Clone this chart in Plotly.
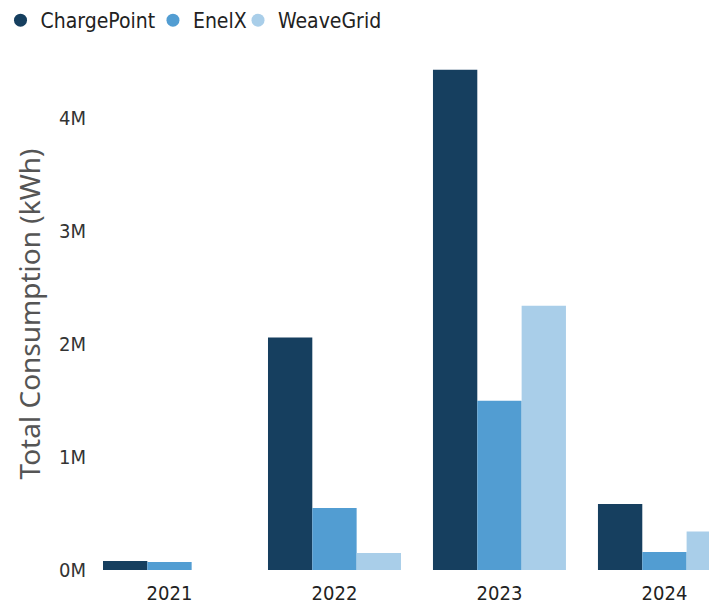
import plotly.graph_objects as go

years = ["2021", "2022", "2023", "2024"]
chargepoint = [80000, 2060000, 4430000, 585000]
enelx = [70000, 550000, 1500000, 160000]
weavegrid = [0, 150000, 2340000, 340000]

series = [("ChargePoint", chargepoint, "#163f5f"),
          ("EnelX", enelx, "#529dd2"),
          ("WeaveGrid", weavegrid, "#a9cee9")]

tick_vals = [0, 1000000, 2000000, 3000000, 4000000]
tick_text = ["0M", "1M", "2M", "3M", "4M"]

FONT = "DejaVu Sans Condensed, Tahoma, sans-serif"
legend_ids = ["legend", "legend2", "legend3"]
legend_x = [-0.1500, 0.0920, 0.2270]

fig = go.Figure()
for name, vals, color in series:
    fig.add_trace(go.Bar(x=years, y=vals, name=name, marker_color=color,
                         marker_line_width=0, showlegend=False))
for (name, vals, color), lid in zip(series, legend_ids):
    fig.add_trace(go.Scatter(x=[None], y=[None], mode="markers", name=name,
                             marker=dict(symbol="circle", size=13, color=color),
                             legend=lid, showlegend=True))

legend_style = dict(orientation="h", xref="paper", xanchor="left",
                    y=1.1133, yref="paper", yanchor="top",
                    font=dict(family=FONT, size=21, color="#222222"),
                    itemwidth=30, bgcolor="rgba(0,0,0,0)", borderwidth=0)

layout_legends = {lid: dict(legend_style, x=lx) for lid, lx in zip(legend_ids, legend_x)}

fig.update_layout(
    width=717, height=605,
    margin=dict(l=87, r=0, t=50, b=43, autoexpand=False),
    paper_bgcolor="white", plot_bgcolor="white",
    barmode="group", bargap=0.194, bargroupgap=0,
    font=dict(family=FONT, size=20, color="#333333"),
    xaxis=dict(type="category", range=[-0.4515, 3.367], showgrid=False,
               showline=False, ticks="", automargin=False, ticklabelstandoff=9,
               tickfont=dict(size=20, color="#222222")),
    yaxis=dict(range=[0, 4535000], tickvals=tick_vals, ticktext=tick_text,
               showgrid=False, zeroline=False, showline=False, ticks="",
               ticklabelstandoff=8, automargin=False,
               tickfont=dict(size=20, color="#333333"),
               title=dict(text="Total Consumption (kWh)", standoff=10,
                          font=dict(family="Noto Sans, sans-serif", size=28,
                                    color="#555555"))),
    **layout_legends,
)

fig.write_html("out.html")
